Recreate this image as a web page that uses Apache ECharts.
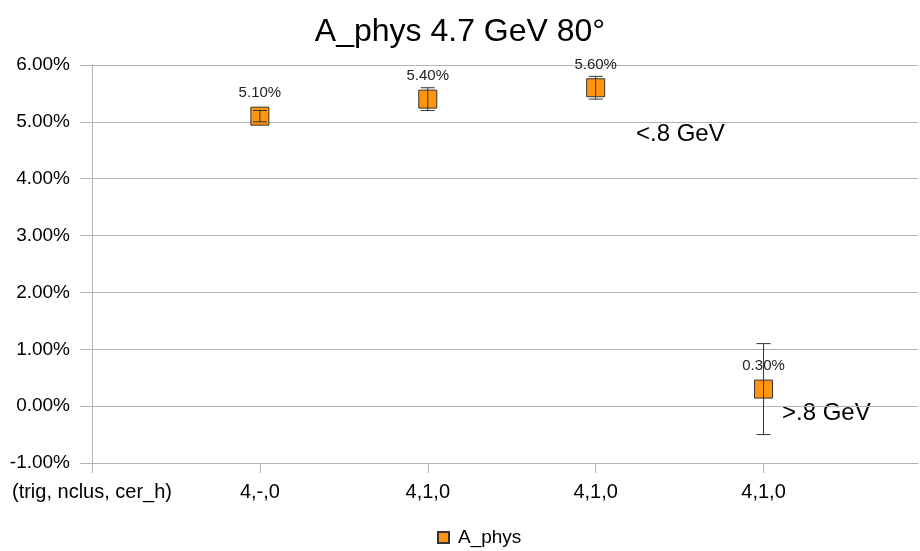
<!DOCTYPE html>
<html>
<head>
<meta charset="utf-8">
<script src="https://cdn.jsdelivr.net/npm/echarts@6/dist/echarts.min.js"></script>
<style>html,body{margin:0;padding:0;background:#fff;}#c{width:920px;height:551px;}</style>
</head>
<body>
<div id="c"></div>
<script>
var tickLabels = ['(trig, nclus, cer_h)', '4,-,0', '4,1,0', '4,1,0', '4,1,0'];
var positions = [1, 2, 3, 4];
var values = [5.1, 5.4, 5.6, 0.3];
var errors = [0.1, 0.2, 0.2, 0.8];
var FONT = '"Liberation Sans", Arial, sans-serif';

var chart = echarts.init(document.getElementById('c'));
var pts = positions.map(function (p, i) { return [p, values[i]]; });
var errData = positions.map(function (p, i) { return [p, values[i] - errors[i], values[i] + errors[i]]; });

chart.setOption({
  animation: false,
  backgroundColor: '#fff',
  title: {
    text: 'A_phys 4.7 GeV 80°',
    left: 'center', top: 11,
    textStyle: { fontFamily: FONT, fontSize: 32, fontWeight: 'normal', color: '#000' }
  },
  legend: {
    data: ['A_phys'], left: 432, top: 523, icon: 'rect', itemWidth: 11, itemHeight: 11, itemGap: 10,
    textStyle: { fontFamily: FONT, fontSize: 19, color: '#000', padding: [0, 0, 0, 4] }
  },
  grid: { left: 92, right: 2, top: 65, bottom: 88 },
  xAxis: {
    type: 'value', min: 0, max: 4.92, interval: 1,
    splitLine: { show: false },
    axisLine: { onZero: false, lineStyle: { color: '#b3b3b3' } },
    axisTick: { show: true, inside: false, length: 10, lineStyle: { color: '#b3b3b3' }, customValues: [0, 1, 2, 3, 4] },
    axisLabel: {
      customValues: [0, 1, 2, 3, 4],
      fontFamily: FONT, fontSize: 20, color: '#000', margin: 19,
      formatter: function (v) { var i = Math.round(v); return Math.abs(v - i) < 1e-6 && tickLabels[i] !== undefined ? tickLabels[i] : ''; }
    }
  },
  yAxis: {
    type: 'value', min: -1, max: 6, interval: 1,
    axisLine: { show: true, lineStyle: { color: '#b3b3b3' } },
    axisTick: { show: true, length: 12, lineStyle: { color: '#b3b3b3' } },
    splitLine: { lineStyle: { color: '#b3b3b3' } },
    axisLabel: { fontFamily: FONT, fontSize: 19, color: '#000', margin: 22, formatter: function (v) { return v.toFixed(2) + '%'; } }
  },
  series: [
    {
      name: 'A_phys', type: 'scatter', symbol: 'rect', symbolSize: 18, z: 2,
      itemStyle: { color: '#ff950e', borderColor: '#333', borderWidth: 1, opacity: 1 },
      label: {
        show: true, position: 'top', distance: 6,
        fontFamily: FONT, fontSize: 15, color: '#222',
        formatter: function (p) { return p.value[1].toFixed(2) + '%'; }
      },
      data: pts
    },
    {
      name: 'err', type: 'custom', z: 3, silent: true,
      renderItem: function (params, api) {
        var x = api.value(0);
        var lo = api.coord([x, api.value(1)]);
        var hi = api.coord([x, api.value(2)]);
        var hw = 7;
        var st = { stroke: '#333', lineWidth: 1 };
        return {
          type: 'group', children: [
            { type: 'line', shape: { x1: lo[0], y1: lo[1], x2: hi[0], y2: hi[1] }, style: st },
            { type: 'line', shape: { x1: lo[0] - hw, y1: lo[1], x2: lo[0] + hw, y2: lo[1] }, style: st },
            { type: 'line', shape: { x1: hi[0] - hw, y1: hi[1], x2: hi[0] + hw, y2: hi[1] }, style: st }
          ]
        };
      },
      encode: { x: 0, y: [1, 2] },
      data: errData
    }
  ],
  graphic: [
    { type: 'text', left: 636, top: 122, style: { text: '<.8 GeV', fontFamily: FONT, fontSize: 24, fill: '#000' } },
    { type: 'text', left: 782, top: 401, style: { text: '>.8 GeV', fontFamily: FONT, fontSize: 24, fill: '#000' } }
  ]
});
</script>
</body>
</html>
